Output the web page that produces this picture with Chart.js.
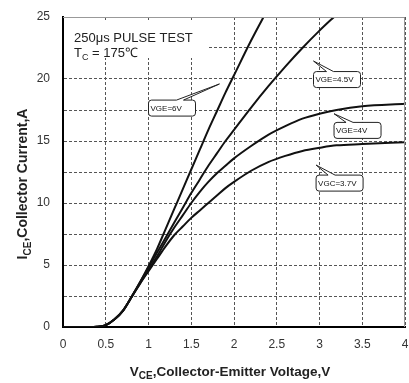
<!DOCTYPE html>
<html>
<head>
<meta charset="utf-8">
<script src="https://cdn.jsdelivr.net/npm/chart.js@4"></script>
<style>
  html, body { margin: 0; padding: 0; background: #fff; }
</style>
</head>
<body>
<canvas id="chart" width="409" height="383"></canvas>
<script>
// collector-emitter voltage grid (V)
const vce = [0, 0.3, 0.4, 0.5, 0.6, 0.7, 0.8, 0.9, 1.0, 1.1, 1.2, 1.3, 1.4, 1.5, 1.6, 1.7, 1.8, 1.9, 2.0, 2.2, 2.4, 2.6, 2.8, 3.0, 3.2, 3.5, 4.0];

// collector current (A) for each gate voltage
const icVge6 = [0, 0, 0.02, 0.15, 0.6, 1.3, 2.4, 3.6, 4.9, 6.3, 7.9, 9.5, 11.1, 12.7, 14.3, 15.9, 17.4, 18.9, 20.3, 23.1, 25.7, null, null, null, null, null, null];
const icVge45 = [0, 0, 0.02, 0.15, 0.6, 1.3, 2.4, 3.6, 4.8, 6.0, 7.2, 8.4, 9.6, 10.8, 11.9, 13.0, 14.0, 15.0, 15.9, 17.7, 19.4, 21.0, 22.5, 23.9, 25.2, null, null];
const icVge4 = [0, 0, 0.02, 0.15, 0.6, 1.3, 2.4, 3.5, 4.6, 5.7, 6.9, 8.0, 9.0, 10.0, 10.9, 11.7, 12.4, 13.0, 13.6, 14.6, 15.5, 16.2, 16.8, 17.2, 17.5, 17.8, 18.0];
const icVge37 = [0, 0, 0.02, 0.15, 0.6, 1.3, 2.4, 3.5, 4.5, 5.5, 6.5, 7.4, 8.1, 8.8, 9.4, 10.0, 10.6, 11.2, 11.7, 12.6, 13.3, 13.8, 14.2, 14.45, 14.65, 14.75, 14.9];

const xTicks = [0, 0.5, 1, 1.5, 2, 2.5, 3, 3.5, 4];
const xTickLabels = ['0', '0.5', '1', '1.5', '2', '2.5', '3', '3.5', '4'];
const yTicks = [0, 2.5, 5, 7.5, 10, 12.5, 15, 17.5, 20, 22.5, 25];
const yTickLabels = ['0', '', '5', '', '10', '', '15', '', '20', '', '25'];

// curve labels: box corner and pointer tip in axis units
const callouts = [
  { text: 'VGE=6V', at: [1.0, 18.3], tip: [1.83, 19.6], base: 28 },
  { text: 'VGE=4.5V', at: [2.93, 20.6], tip: [2.93, 21.45], base: 13 },
  { text: 'VGE=4V', at: [3.17, 16.5], tip: [3.17, 17.2], base: 12 },
  { text: 'VGC=3.7V', at: [2.96, 12.25], tip: [2.96, 13.06], base: 12 }
];

const FONT = '"Liberation Sans", Arial, sans-serif';

function toPoints(ys) {
  return vce.map((v, i) => ({ x: v, y: ys[i] }));
}

function curve(ys) {
  return {
    data: toPoints(ys),
    borderColor: '#111',
    borderWidth: 2,
    pointRadius: 0,
    cubicInterpolationMode: 'monotone',
    fill: false
  };
}

// draws text pieces in a row, pieces marked sub are smaller and lowered
function drawParts(ctx, parts, x, y, size, weight) {
  let cx = x;
  parts.forEach(([txt, sub]) => {
    ctx.font = `${weight} ${sub ? Math.round(size * 0.72) : size}px ${FONT}`;
    ctx.fillText(txt, cx, sub ? y + size * 0.25 : y);
    cx += ctx.measureText(txt).width;
  });
}

function partsWidth(ctx, parts, size, weight) {
  return parts.reduce((w, [txt, sub]) => {
    ctx.font = `${weight} ${sub ? Math.round(size * 0.72) : size}px ${FONT}`;
    return w + ctx.measureText(txt).width;
  }, 0);
}

const decorPlugin = {
  id: 'decor',
  afterDatasetsDraw(chart) {
    const { ctx, chartArea: a, scales: { x, y } } = chart;
    ctx.save();

    // thin frame at top and right
    ctx.strokeStyle = '#999';
    ctx.lineWidth = 1;
    ctx.beginPath();
    ctx.moveTo(a.left, a.top + 0.5);
    ctx.lineTo(a.right - 0.5, a.top + 0.5);
    ctx.lineTo(a.right - 0.5, a.bottom);
    ctx.stroke();

    // test condition note
    ctx.fillStyle = '#fff';
    ctx.fillRect(a.left + 1, a.top + 4, 144, 37);
    ctx.fillStyle = '#222';
    ctx.textBaseline = 'alphabetic';
    ctx.textAlign = 'left';
    drawParts(ctx, [['250μs PULSE TEST', false]], a.left + 11, a.top + 25, 13, 'normal');
    drawParts(ctx, [['T', false], ['C', true], [' = 175℃', false]], a.left + 11, a.top + 40, 13, 'normal');

    // curve callouts
    callouts.forEach(c => {
      const bx = x.getPixelForValue(c.at[0]);
      const by = y.getPixelForValue(c.at[1]);
      const tx = x.getPixelForValue(c.tip[0]);
      const ty = y.getPixelForValue(c.tip[1]);
      const w = 47;
      const h = 16;
      const r = 3;
      ctx.beginPath();
      ctx.moveTo(bx + r, by);
      ctx.lineTo(bx + c.base, by);
      ctx.lineTo(tx, ty);
      ctx.lineTo(bx + c.base + 7, by);
      ctx.lineTo(bx + w - r, by);
      ctx.arcTo(bx + w, by, bx + w, by + r, r);
      ctx.lineTo(bx + w, by + h - r);
      ctx.arcTo(bx + w, by + h, bx + w - r, by + h, r);
      ctx.lineTo(bx + r, by + h);
      ctx.arcTo(bx, by + h, bx, by + h - r, r);
      ctx.lineTo(bx, by + r);
      ctx.arcTo(bx, by, bx + r, by, r);
      ctx.closePath();
      ctx.fillStyle = '#fff';
      ctx.fill();
      ctx.strokeStyle = '#222';
      ctx.lineWidth = 1;
      ctx.stroke();
      ctx.font = `8px ${FONT}`;
      ctx.fillStyle = '#111';
      ctx.textBaseline = 'middle';
      ctx.fillText(c.text, bx + 2, by + h / 2 + 0.5);
    });

    // axis titles with subscripts
    ctx.fillStyle = '#222';
    ctx.textBaseline = 'alphabetic';
    const xParts = [['V', false], ['CE', true], [',Collector-Emitter Voltage,V', false]];
    const xw = partsWidth(ctx, xParts, 13.5, 'bold');
    drawParts(ctx, xParts, (a.left + a.right) / 2 - 4 - xw / 2, 376, 13.5, 'bold');

    const yParts = [['I', false], ['CE', true], [',Collector Current,A', false]];
    const yw = partsWidth(ctx, yParts, 14, 'bold');
    ctx.translate(27, 184);
    ctx.rotate(-Math.PI / 2);
    drawParts(ctx, yParts, -yw / 2, 0, 14, 'bold');

    ctx.restore();
  }
};

const gridStyle = { color: '#555', lineWidth: 1, drawTicks: false };

new Chart(document.getElementById('chart'), {
  type: 'line',
  data: {
    datasets: [curve(icVge6), curve(icVge45), curve(icVge4), curve(icVge37)]
  },
  options: {
    responsive: false,
    animation: false,
    layout: { padding: { top: 17, right: 4, left: 0, bottom: 0 } },
    plugins: {
      legend: { display: false },
      tooltip: { enabled: false }
    },
    scales: {
      x: {
        type: 'linear',
        min: 0,
        max: 4,
        afterBuildTicks: s => { s.ticks = xTicks.map(v => ({ value: v })); },
        afterFit: s => { s.height = 56; s.paddingLeft = 0; s.paddingRight = 0; },
        ticks: {
          callback: (v, i) => xTickLabels[i],
          padding: 10,
          maxRotation: 0,
          autoSkip: false,
          color: '#333',
          font: { family: FONT, size: 12 }
        },
        grid: gridStyle,
        border: { color: '#000', width: 2, dash: [3, 2] }
      },
      y: {
        type: 'linear',
        min: 0,
        max: 25,
        afterBuildTicks: s => { s.ticks = yTicks.map(v => ({ value: v })); },
        afterFit: s => { s.width = 63; s.paddingTop = 0; s.paddingBottom = 0; },
        ticks: {
          callback: (v, i) => yTickLabels[i],
          padding: 13,
          autoSkip: false,
          color: '#333',
          font: { family: FONT, size: 12 }
        },
        grid: gridStyle,
        border: { color: '#000', width: 2, dash: [3, 2] }
      }
    }
  },
  plugins: [decorPlugin]
});
</script>
</body>
</html>
